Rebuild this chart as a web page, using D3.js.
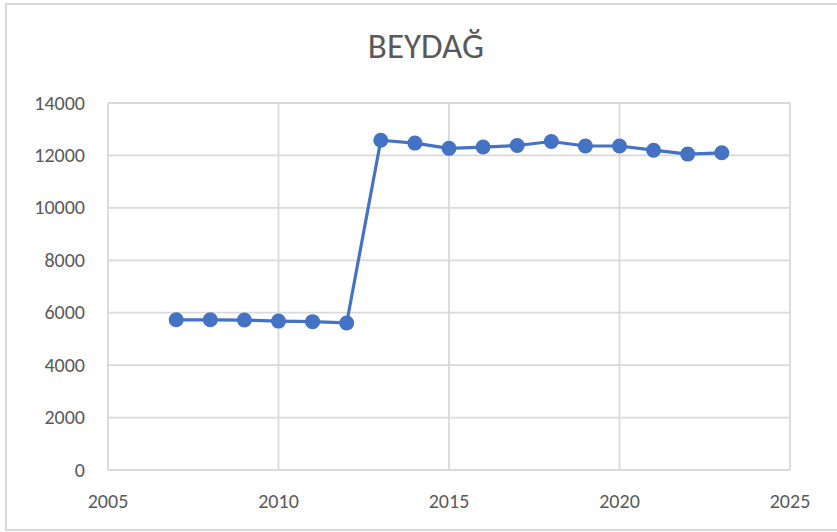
<!DOCTYPE html>
<html>
<head>
<meta charset="utf-8">
<script src="https://cdn.jsdelivr.net/npm/d3@7"></script>
<style>
  html, body { margin: 0; padding: 0; background: #fff; }
  svg text { font-family: Carlito, Calibri, "Liberation Sans Narrow", sans-serif; fill: #595959; }
</style>
</head>
<body>
<div id="chart"></div>
<script>
const title = "BEYDAĞ";
const years = [2007, 2008, 2009, 2010, 2011, 2012, 2013, 2014, 2015, 2016, 2017, 2018, 2019, 2020, 2021, 2022, 2023];
const values = [5730, 5730, 5720, 5680, 5660, 5610, 12580, 12470, 12270, 12320, 12380, 12530, 12360, 12360, 12200, 12050, 12100];
const xTicks = [2005, 2010, 2015, 2020, 2025];
const yTicks = [0, 2000, 4000, 6000, 8000, 10000, 12000, 14000];

const width = 837, height = 532;
const margin = {left: 108, right: 47, top: 103, bottom: 62};

const svg = d3.select("#chart").append("svg")
  .attr("width", width)
  .attr("height", height);

// outer chart border
svg.append("rect")
  .attr("x", 6).attr("y", 4)
  .attr("width", 836).attr("height", 526)
  .attr("fill", "#fff")
  .attr("stroke", "#d9d9d9")
  .attr("stroke-width", 2);

const x = d3.scaleLinear().domain([2005, 2025]).range([margin.left, width - margin.right]);
const y = d3.scaleLinear().domain([0, 14000]).range([height - margin.bottom, margin.top]);

// gridlines
svg.append("g")
  .selectAll("line")
  .data(yTicks)
  .join("line")
  .attr("x1", x(2005)).attr("x2", x(2025))
  .attr("y1", d => y(d)).attr("y2", d => y(d))
  .attr("stroke", "#d9d9d9").attr("stroke-width", 1.8);

svg.append("g")
  .selectAll("line")
  .data(xTicks)
  .join("line")
  .attr("x1", d => x(d)).attr("x2", d => x(d))
  .attr("y1", y(0)).attr("y2", y(14000))
  .attr("stroke", "#d9d9d9").attr("stroke-width", 1.8);

// y labels
svg.append("g")
  .selectAll("text")
  .data(yTicks)
  .join("text")
  .attr("x", x(2005) - 23)
  .attr("y", d => y(d))
  .attr("dy", "0.33em")
  .attr("text-anchor", "end")
  .attr("font-size", 20)
  .text(d => d);

// x labels
svg.append("g")
  .selectAll("text")
  .data(xTicks)
  .join("text")
  .attr("x", d => x(d))
  .attr("y", y(0) + 38)
  .attr("text-anchor", "middle")
  .attr("font-size", 20)
  .text(d => d);

// title
svg.append("text")
  .attr("x", 426)
  .attr("y", 58)
  .attr("text-anchor", "middle")
  .attr("font-size", 35)
  .text(title);

const data = years.map((yr, i) => ({year: yr, value: values[i]}));

svg.append("path")
  .datum(data)
  .attr("fill", "none")
  .attr("stroke", "#4472C4")
  .attr("stroke-width", 3.2)
  .attr("stroke-linejoin", "round")
  .attr("d", d3.line().x(d => x(d.year)).y(d => y(d.value)));

svg.append("g")
  .selectAll("circle")
  .data(data)
  .join("circle")
  .attr("cx", d => x(d.year))
  .attr("cy", d => y(d.value))
  .attr("r", 7.5)
  .attr("fill", "#4472C4");
</script>
</body>
</html>
